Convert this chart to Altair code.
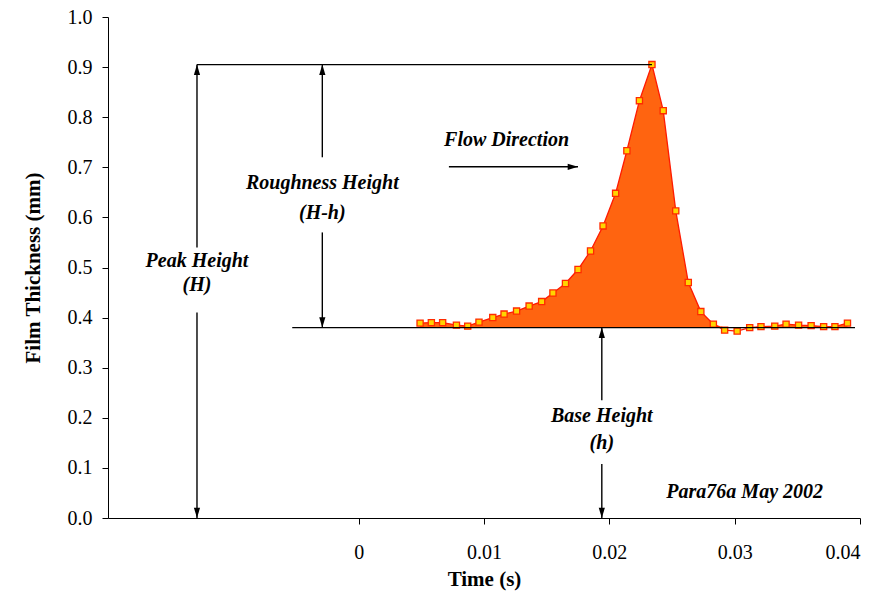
import altair as alt
import pandas as pd

# ---- data ----
times = [0.0049, 0.0058, 0.0067, 0.0078, 0.0087, 0.0096, 0.0107, 0.0116, 0.0126,
         0.0136, 0.0146, 0.0155, 0.0165, 0.0175, 0.0185, 0.0195, 0.0205, 0.0214,
         0.0224, 0.0234, 0.0243, 0.0253, 0.0263, 0.0273, 0.0283, 0.0292, 0.0302,
         0.0312, 0.0321, 0.0332, 0.0341, 0.0351, 0.0361, 0.0371, 0.0380, 0.0390]
thickness = [0.389, 0.390, 0.390, 0.385, 0.383, 0.391, 0.400, 0.407, 0.413,
             0.423, 0.432, 0.449, 0.468, 0.496, 0.533, 0.583, 0.648, 0.733,
             0.833, 0.905, 0.813, 0.613, 0.470, 0.412, 0.387, 0.375, 0.373,
             0.380, 0.382, 0.383, 0.387, 0.385, 0.384, 0.382, 0.382, 0.389]
base_h = 0.38
peak_h = 0.905
x_ticks = [0, 0.01, 0.02, 0.03, 0.04]
y_ticks = [0.0, 0.1, 0.2, 0.3, 0.4, 0.5, 0.6, 0.7, 0.8, 0.9, 1.0]

# annotation geometry (data coordinates)
peak_x = -0.0129
rough_x = -0.0029
base_x = 0.0194

df = pd.DataFrame({"t": times, "v": thickness})

SERIF = "Liberation Serif"
xs = alt.Scale(domain=[-0.02, 0.04], nice=False, zero=False)
ys = alt.Scale(domain=[0, 1], nice=False)

x_axis = alt.Axis(
    values=x_ticks, format="~g", title="Time (s)", grid=False,
    tickSize=6, labelPadding=18, labelFont=SERIF, labelFontSize=20,
    labelColor="black", titleFont=SERIF, titleFontSize=21, titleFontWeight="bold",
    titleColor="black", titlePadding=6, domainColor="black", tickColor="black")
y_axis = alt.Axis(
    values=y_ticks, format=".1f", title="Film Thickness (mm)", grid=False,
    tickSize=6, labelPadding=10, labelFont=SERIF, labelFontSize=20,
    labelColor="black", titleFont=SERIF, titleFontSize=21, titleFontWeight="bold",
    titleColor="black", titlePadding=24, domainColor="black", tickColor="black")


def X(field="t"):
    return alt.X(f"{field}:Q", scale=xs, axis=x_axis)


def Y(field="v"):
    return alt.Y(f"{field}:Q", scale=ys, axis=y_axis)


area = alt.Chart(df).transform_calculate(
    top=f"max(datum.v, {base_h})", bot=f"{base_h}"
).mark_area(color="#FF6410", opacity=1).encode(
    x=X(), y=Y("top"), y2="bot:Q")

line = alt.Chart(df).mark_line(color="#FF1A00", strokeWidth=1.3).encode(x=X(), y=Y())
pts = alt.Chart(df).mark_point(shape="square", filled=True, fill="#FFD400",
                               stroke="#FF2A00", strokeWidth=1.3, size=38,
                               opacity=1).encode(x=X(), y=Y())

rules_df = pd.DataFrame({
    "t": [peak_x, -0.0053, peak_x, peak_x, rough_x, rough_x, base_x, base_x, 0.0072],
    "t2": [0.0234, 0.0396, peak_x, peak_x, rough_x, rough_x, base_x, base_x, 0.0175],
    "v": [peak_h, base_h, peak_h, 0.41, peak_h, 0.57, base_h, 0.108, 0.701],
    "v2": [peak_h, base_h, 0.54, 0.0, 0.72, base_h, 0.235, 0.0, 0.701],
})
rules = alt.Chart(rules_df).mark_rule(color="black", strokeWidth=1.4).encode(
    x=X(), x2="t2:Q", y=Y(), y2="v2:Q")

UP = "M0,0L-0.45,1.5L0.45,1.5Z"
DOWN = "M0,0L-0.45,-1.5L0.45,-1.5Z"
RIGHT = "M0,0L-1.5,-0.45L-1.5,0.45Z"


def head(xv, yv, shape):
    d = pd.DataFrame({"t": xv, "v": yv})
    return alt.Chart(d).mark_point(shape=shape, filled=True, color="black",
                                   size=190, opacity=1).encode(x=X(), y=Y())


heads = [head([peak_x, rough_x, base_x], [peak_h, peak_h, base_h], UP),
         head([peak_x, rough_x, base_x], [0.0, base_h, 0.0], DOWN),
         head([0.0175], [0.701], RIGHT)]

txt_df = pd.DataFrame({
    "t": [peak_x, peak_x, rough_x, rough_x, base_x, base_x, 0.0118],
    "v": [0.512, 0.466, 0.668, 0.608, 0.2036, 0.149, 0.7545],
    "label": ["Peak Height", "(H)", "Roughness Height", "(H-h)",
              "Base Height", "(h)", "Flow Direction"],
})
texts = alt.Chart(txt_df).mark_text(font=SERIF, fontSize=20, fontWeight="bold",
                                    fontStyle="italic", color="black",
                                    align="center", baseline="middle").encode(
    x=X(), y=Y(), text="label:N")

note_df = pd.DataFrame({"t": [0.0308], "v": [0.052], "label": ["Para76a May 2002"]})
note = alt.Chart(note_df).mark_text(font=SERIF, fontSize=20, fontWeight="bold",
                                    fontStyle="italic", color="black",
                                    align="center", baseline="middle").encode(
    x=X(), y=Y(), text="label:N")

chart = alt.layer(area, line, pts, rules, *heads, texts, note).properties(
    width=752, height=501,
    autosize=alt.AutoSizeParams(type="none"),
    padding={"left": 108, "top": 17, "right": 20, "bottom": 79},
    background="white",
).configure_view(stroke=None)

chart.save("out.html", embed_options={"renderer": "svg", "actions": False})
